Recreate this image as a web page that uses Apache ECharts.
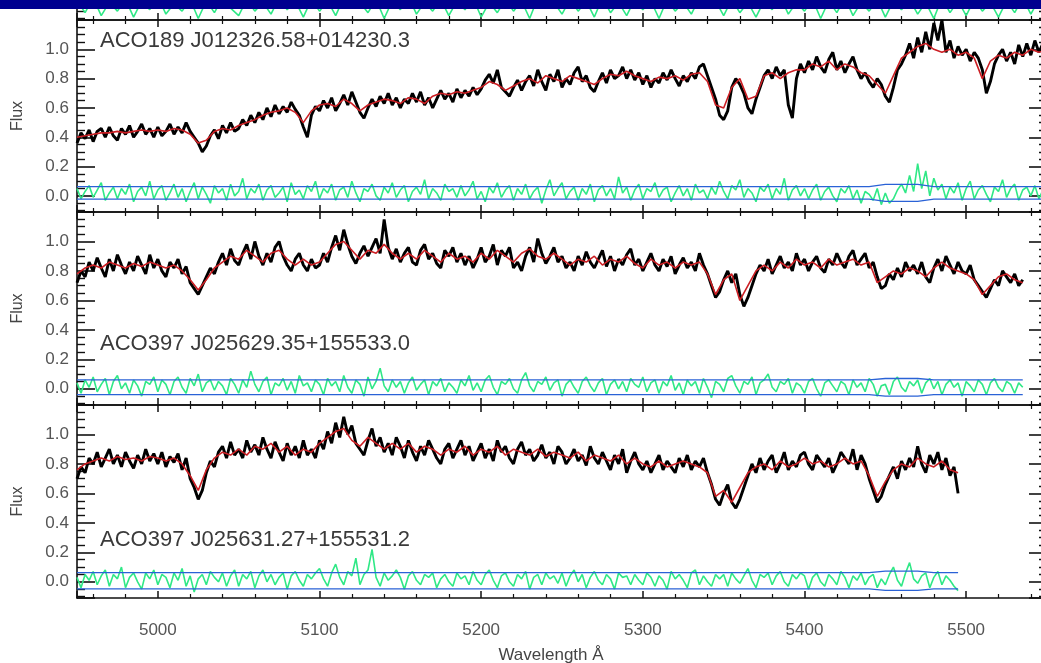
<!DOCTYPE html>
<html><head><meta charset="utf-8">
<script src="https://cdn.jsdelivr.net/npm/echarts@6/dist/echarts.min.js"></script>
<style>html,body{margin:0;padding:0;background:#fff}#c{width:1041px;height:663px}</style>
</head><body><div id="c"></div>
<script>
// ---- sampling (Angstrom) ----
const WL_START = 4950;
const FLUX_STEP = 2.5;    // observed spectrum and residual sampling
const MODEL_STEP = 5;     // fitted model sampling
const X_MIN = 4950, X_MAX = 5550;
const Y_MIN = -0.11, Y_MAX = 1.2;

const labels = ["", "ACO189 J012326.58+014230.3", "ACO397 J025629.35+155533.0", "ACO397 J025631.27+155531.2"];

// ---- panel 0 (cut off at the top of the image): residual only, 5 A sampling ----
const resid0 = [
0.02,-0.06,0.04,-0.08,0.01,-0.05,0.03,-0.09,0.02,-0.04,
0.05,-0.07,0.00,-0.05,0.03,-0.10,0.02,-0.06,0.04,-0.03,
-0.08,0.03,-0.05,0.01,-0.07,0.04,-0.04,0.02,-0.09,0.03,
-0.05,0.02,-0.08,0.04,-0.03,0.01,-0.06,0.03,-0.10,0.02,
-0.04,0.05,-0.07,0.01,-0.05,0.03,-0.08,0.02,-0.04,0.04,
-0.09,0.01,-0.06,0.03,-0.05,0.02,-0.10,0.04,-0.03,0.01,
-0.07,0.03,-0.05,0.02,-0.09,0.04,-0.06,0.01,-0.08,0.03,
-0.04,0.02,-0.10,0.03,-0.05,0.01,-0.07,0.04,-0.03,0.02,
-0.08,0.03,-0.06,0.01,-0.09,0.02,-0.04,0.05,-0.07,0.01,
-0.05,0.03,-0.10,0.02,-0.06,0.04,-0.08,0.01,-0.05,0.03,
-0.09,0.02,-0.04,0.03,-0.07,0.01,-0.10,0.04,-0.06,0.02,
-0.08,0.03,-0.05,0.01,-0.09,0.02,-0.06,0.04,-0.07,0.03,
-0.05];

// ---- panel 1: ACO189 J012326.58+014230.3 (one row = 50 A) ----
const flux1 = [
0.36,0.43,0.39,0.45,0.37,0.44,0.46,0.40,0.47,0.41,0.38,0.46,0.42,0.48,0.40,0.44,0.49,0.42,0.46,0.40,
0.47,0.41,0.44,0.49,0.42,0.47,0.43,0.50,0.44,0.40,0.36,0.30,0.34,0.41,0.45,0.39,0.48,0.43,0.50,0.44,
0.46,0.52,0.48,0.55,0.50,0.57,0.52,0.60,0.54,0.62,0.56,0.61,0.57,0.64,0.59,0.55,0.47,0.40,0.55,0.61,
0.58,0.65,0.60,0.67,0.58,0.63,0.69,0.62,0.71,0.64,0.57,0.53,0.60,0.66,0.61,0.68,0.63,0.70,0.62,0.67,
0.60,0.66,0.63,0.70,0.64,0.71,0.62,0.67,0.60,0.66,0.72,0.66,0.70,0.64,0.73,0.67,0.72,0.68,0.74,0.69,
0.73,0.79,0.83,0.77,0.86,0.74,0.71,0.68,0.74,0.79,0.72,0.78,0.82,0.75,0.86,0.78,0.72,0.83,0.78,0.86,
0.74,0.80,0.76,0.84,0.88,0.78,0.82,0.74,0.71,0.78,0.84,0.77,0.86,0.80,0.82,0.88,0.80,0.86,0.79,0.84,
0.76,0.82,0.74,0.80,0.77,0.84,0.79,0.86,0.80,0.75,0.82,0.78,0.84,0.80,0.88,0.90,0.82,0.74,0.66,0.55,
0.52,0.58,0.74,0.80,0.76,0.70,0.60,0.56,0.66,0.74,0.82,0.86,0.80,0.88,0.82,0.86,0.62,0.53,0.80,0.90,
0.84,0.92,0.86,0.95,0.88,0.84,0.93,0.98,0.86,0.92,0.84,0.90,0.95,0.86,0.80,0.84,0.78,0.74,0.80,0.76,
0.68,0.64,0.74,0.86,0.90,0.96,1.04,0.94,1.08,0.98,1.12,1.00,1.18,1.06,1.20,0.98,1.06,0.94,1.02,0.96,
1.00,0.92,0.98,0.94,0.86,0.70,0.78,0.90,0.96,1.00,0.92,0.98,0.90,1.03,0.95,1.04,0.96,1.06,0.98,1.04,
0.97];
const model1 = [
0.40,0.41,0.42,0.43,0.43,0.44,0.43,0.44,0.45,0.44,
0.45,0.44,0.46,0.45,0.42,0.36,0.38,0.44,0.46,0.45,
0.48,0.50,0.52,0.55,0.57,0.58,0.60,0.57,0.50,0.58,
0.62,0.63,0.61,0.66,0.63,0.58,0.62,0.64,0.66,0.65,
0.63,0.67,0.66,0.63,0.68,0.70,0.69,0.71,0.70,0.72,
0.74,0.78,0.76,0.72,0.75,0.78,0.80,0.77,0.82,0.80,
0.78,0.82,0.80,0.78,0.76,0.80,0.83,0.82,0.85,0.82,
0.80,0.78,0.81,0.80,0.82,0.79,0.83,0.84,0.78,0.62,
0.60,0.74,0.80,0.66,0.68,0.82,0.84,0.80,0.84,0.86,
0.86,0.90,0.88,0.92,0.86,0.90,0.88,0.84,0.82,0.76,
0.70,0.82,0.94,0.98,1.02,1.04,1.00,0.98,1.00,0.96,
0.98,0.94,0.80,0.92,0.96,0.94,0.98,0.96,1.00,0.98,
1.00];
const resid1 = [
0.05,-0.02,0.03,0.07,-0.01,0.04,0.09,-0.03,0.02,0.06,-0.02,0.05,0.01,0.08,-0.04,0.03,0.06,0.00,0.10,-0.02,
0.04,0.07,-0.03,0.02,0.08,-0.01,0.05,-0.04,0.03,0.09,-0.02,0.06,0.01,-0.05,0.07,0.02,0.05,-0.03,0.08,0.00,
0.03,0.12,-0.02,0.05,0.02,0.08,-0.03,0.04,0.07,-0.01,0.02,0.06,-0.04,0.09,0.01,0.04,-0.02,0.07,0.03,0.10,
-0.02,0.05,0.02,0.08,-0.03,0.04,0.06,-0.01,0.10,0.02,-0.04,0.05,0.03,0.08,0.00,-0.03,0.06,0.02,0.09,-0.01,
0.04,0.07,-0.04,0.03,0.06,0.01,0.11,-0.02,0.05,0.02,-0.03,0.08,0.03,0.05,-0.01,0.07,0.00,0.04,0.10,-0.02,
0.03,-0.04,0.06,0.02,0.09,-0.01,0.04,0.07,-0.03,0.05,0.01,0.08,-0.02,0.03,0.06,-0.05,0.04,0.11,0.00,0.05,
0.09,-0.02,0.03,0.06,-0.03,0.05,0.01,0.08,-0.04,0.04,0.07,0.00,0.05,-0.02,0.13,0.02,0.06,-0.03,0.04,0.08,
-0.02,0.05,0.03,0.09,-0.01,0.04,0.06,-0.04,0.02,0.07,0.00,0.05,-0.03,0.08,0.02,0.04,-0.02,0.06,0.01,0.10,
0.03,-0.02,0.07,0.04,0.11,-0.01,0.05,0.02,-0.04,0.06,0.03,0.08,-0.02,0.05,0.01,0.12,-0.03,0.04,0.07,0.00,
0.05,-0.02,0.04,0.08,-0.03,0.03,0.06,0.00,-0.04,0.05,0.02,0.07,-0.02,0.04,-0.05,0.03,0.01,-0.03,0.05,-0.06,
0.02,-0.05,-0.02,0.04,0.08,0.02,0.14,0.03,0.22,0.05,0.17,0.00,0.12,0.04,0.08,-0.02,0.06,0.02,0.09,-0.03,
0.05,0.10,-0.02,0.04,0.07,0.01,-0.04,0.06,0.03,0.11,-0.01,0.05,0.08,-0.03,0.04,0.06,0.00,0.07,-0.02,0.04,
0.03];
const errHi1 = [[4950,0.063],[5440,0.063],[5450,0.078],[5470,0.078],[5480,0.063],[5550,0.063]];
const errLo1 = [[4950,-0.022],[5440,-0.022],[5450,-0.037],[5470,-0.037],[5480,-0.022],[5550,-0.022]];

// ---- panel 2: ACO397 J025629.35+155533.0 ----
const flux2 = [
0.72,0.80,0.76,0.86,0.80,0.89,0.82,0.76,0.88,0.80,0.91,0.84,0.78,0.86,0.80,0.90,0.84,0.78,0.91,0.82,
0.88,0.80,0.76,0.86,0.82,0.88,0.78,0.83,0.72,0.68,0.64,0.70,0.76,0.82,0.78,0.86,0.92,0.84,0.95,0.87,
0.84,0.92,0.98,0.88,1.00,0.90,0.84,0.92,0.86,0.96,1.00,0.90,0.84,0.80,0.88,0.92,0.84,0.80,0.88,0.82,
0.84,0.92,0.86,0.96,1.04,0.94,1.08,0.98,0.90,0.85,0.92,0.97,0.90,0.96,1.02,0.92,1.15,0.96,0.88,0.95,
0.86,0.92,0.96,0.86,0.84,0.94,0.98,0.88,0.92,0.85,0.82,0.94,0.90,0.96,0.86,0.92,0.84,0.90,0.82,0.88,
0.96,0.86,0.90,0.98,0.84,0.94,0.90,0.96,0.82,0.86,0.80,0.90,0.96,0.86,1.02,0.92,0.85,0.90,0.96,0.86,
0.90,0.82,0.86,0.80,0.90,0.84,0.93,0.86,0.82,0.88,0.94,0.83,0.90,0.80,0.88,0.84,0.91,0.95,0.84,0.88,
0.80,0.86,0.92,0.84,0.80,0.88,0.83,0.90,0.78,0.84,0.89,0.82,0.86,0.80,0.92,0.84,0.78,0.70,0.62,0.66,
0.74,0.80,0.72,0.78,0.64,0.56,0.62,0.70,0.78,0.84,0.80,0.88,0.78,0.84,0.90,0.82,0.86,0.80,0.92,0.84,
0.88,0.80,0.86,0.90,0.82,0.79,0.88,0.84,0.92,0.86,0.82,0.90,0.94,0.84,0.88,0.92,0.82,0.86,0.76,0.68,
0.70,0.78,0.74,0.82,0.76,0.86,0.80,0.84,0.78,0.86,0.76,0.72,0.82,0.88,0.80,0.90,0.84,0.78,0.86,0.80,
0.78,0.84,0.74,0.70,0.66,0.62,0.68,0.74,0.70,0.80,0.76,0.72,0.78,0.70,0.74];
const model2 = [
0.78,0.82,0.84,0.82,0.86,0.84,0.82,0.85,0.83,0.86,
0.84,0.82,0.84,0.80,0.74,0.67,0.74,0.82,0.86,0.90,
0.88,0.94,0.90,0.86,0.92,0.94,0.88,0.84,0.88,0.84,
0.86,0.92,0.98,1.00,0.94,0.88,0.94,0.92,0.98,0.92,
0.88,0.92,0.88,0.94,0.90,0.86,0.92,0.88,0.90,0.86,
0.92,0.88,0.94,0.90,0.86,0.92,0.95,0.90,0.88,0.92,
0.88,0.84,0.88,0.86,0.90,0.84,0.88,0.86,0.90,0.85,
0.82,0.88,0.84,0.86,0.82,0.86,0.84,0.86,0.78,0.64,
0.74,0.78,0.60,0.70,0.80,0.84,0.80,0.86,0.82,0.88,
0.84,0.86,0.82,0.88,0.84,0.86,0.88,0.84,0.86,0.72,
0.76,0.80,0.78,0.82,0.80,0.76,0.82,0.86,0.82,0.80,
0.78,0.74,0.64,0.70,0.76,0.78,0.74,0.72];
const resid2 = [
0.04,-0.03,0.06,0.01,0.08,-0.02,0.03,0.07,-0.04,0.05,0.09,0.00,0.04,-0.03,0.06,0.02,-0.05,0.05,0.03,0.08,
-0.02,0.06,0.03,-0.04,0.05,0.08,0.01,-0.03,0.07,0.02,0.10,-0.02,0.04,0.06,-0.01,0.05,0.02,-0.04,0.07,0.03,
-0.03,0.06,0.01,0.12,0.03,-0.02,0.05,0.08,-0.04,0.04,0.02,0.07,-0.01,0.05,-0.03,0.09,0.02,0.04,-0.02,0.06,
0.03,-0.04,0.07,0.02,0.05,-0.02,0.09,0.01,-0.03,0.06,0.03,-0.05,0.08,0.00,0.05,0.14,0.02,-0.02,0.06,0.01,
0.05,-0.03,0.04,0.08,-0.01,0.03,0.06,-0.04,0.05,0.02,0.07,-0.02,0.04,0.01,-0.03,0.06,0.02,0.09,-0.01,0.04,
-0.02,0.06,0.09,0.01,-0.04,0.05,0.03,0.07,0.00,-0.03,0.06,0.11,0.02,-0.02,0.05,0.03,0.08,-0.01,0.04,0.06,
-0.05,0.03,0.06,0.01,-0.03,0.05,0.08,0.02,-0.02,0.04,0.07,-0.04,0.03,0.06,0.00,0.05,-0.02,0.07,0.03,0.01,
0.08,-0.02,0.04,0.06,-0.03,0.05,0.02,0.09,-0.01,0.04,-0.04,0.06,0.02,0.05,-0.03,0.07,0.01,-0.06,0.05,0.03,
-0.02,0.07,0.09,0.02,-0.03,0.05,0.03,0.08,-0.04,0.04,0.06,0.10,0.01,-0.02,0.05,0.03,0.07,-0.03,0.04,0.02,
-0.03,0.05,0.07,0.00,-0.05,0.04,0.06,0.02,-0.02,0.05,0.03,-0.04,0.06,0.01,0.04,-0.02,0.07,0.03,-0.05,0.02,
0.03,-0.04,0.05,0.08,0.01,-0.02,0.05,0.02,0.06,-0.03,0.04,0.07,0.00,0.05,-0.04,0.03,0.06,0.01,0.04,-0.05,
0.05,0.02,-0.02,0.06,0.03,-0.04,0.04,0.07,0.01,-0.02,0.05,0.03,-0.03,0.04,0.01];
const errHi2 = [[4950,0.060],[5440,0.060],[5450,0.070],[5470,0.070],[5480,0.060],[5535,0.060]];
const errLo2 = [[4950,-0.040],[5440,-0.040],[5450,-0.050],[5470,-0.050],[5480,-0.040],[5535,-0.040]];

// ---- panel 3: ACO397 J025631.27+155531.2 ----
const flux3 = [
0.70,0.78,0.74,0.84,0.80,0.88,0.78,0.84,0.90,0.80,0.86,0.78,0.88,0.82,0.77,0.86,0.80,0.90,0.82,0.87,
0.80,0.88,0.78,0.85,0.81,0.87,0.76,0.84,0.70,0.64,0.56,0.62,0.74,0.82,0.78,0.88,0.92,0.84,0.95,0.86,
0.90,0.84,0.96,0.88,0.93,0.86,0.98,0.90,0.84,0.95,0.88,0.82,0.94,0.86,0.92,0.84,0.96,0.86,0.90,0.84,
0.96,0.90,1.02,0.94,1.08,0.98,1.12,1.00,1.06,0.94,0.90,0.86,0.96,1.04,0.92,0.98,0.88,0.94,0.86,0.98,
0.92,0.84,0.96,0.88,0.82,0.92,0.86,0.96,0.90,0.84,0.80,0.90,0.94,0.84,0.90,0.96,0.86,0.92,0.82,0.88,
0.94,0.84,0.90,0.82,0.96,0.88,0.92,0.84,0.80,0.90,0.95,0.86,0.90,0.82,0.86,0.93,0.84,0.88,0.80,0.92,
0.88,0.80,0.84,0.90,0.82,0.86,0.79,0.92,0.84,0.80,0.88,0.82,0.76,0.86,0.80,0.90,0.74,0.82,0.88,0.80,
0.76,0.82,0.74,0.80,0.86,0.76,0.82,0.78,0.74,0.84,0.78,0.86,0.76,0.82,0.78,0.84,0.74,0.66,0.56,0.52,
0.60,0.66,0.54,0.50,0.56,0.64,0.72,0.80,0.74,0.84,0.76,0.82,0.86,0.74,0.80,0.88,0.76,0.82,0.78,0.86,
0.88,0.80,0.76,0.86,0.82,0.78,0.84,0.74,0.80,0.88,0.84,0.80,0.90,0.76,0.86,0.80,0.70,0.62,0.54,0.58,
0.66,0.72,0.78,0.70,0.82,0.76,0.84,0.78,0.92,0.80,0.74,0.86,0.80,0.88,0.76,0.84,0.72,0.78,0.60];
const model3 = [
0.76,0.80,0.82,0.84,0.82,0.85,0.83,0.84,0.82,0.85,
0.84,0.82,0.84,0.80,0.72,0.62,0.76,0.84,0.88,0.86,
0.90,0.86,0.92,0.90,0.94,0.88,0.92,0.86,0.90,0.88,
0.94,0.98,1.02,1.04,0.96,0.92,0.98,0.94,0.90,0.94,
0.90,0.94,0.88,0.92,0.90,0.86,0.90,0.88,0.92,0.86,
0.90,0.88,0.92,0.86,0.90,0.88,0.86,0.90,0.85,0.88,
0.86,0.84,0.88,0.82,0.86,0.84,0.82,0.86,0.80,0.84,
0.80,0.78,0.82,0.78,0.80,0.82,0.80,0.78,0.74,0.58,
0.62,0.54,0.64,0.74,0.78,0.80,0.76,0.82,0.78,0.80,
0.84,0.80,0.82,0.78,0.80,0.84,0.80,0.82,0.72,0.58,
0.68,0.76,0.80,0.78,0.84,0.80,0.78,0.82,0.76,0.74];
const resid3 = [
0.03,-0.04,0.05,0.01,0.07,-0.02,0.04,0.08,-0.03,0.05,0.02,0.10,-0.04,0.03,0.06,0.00,-0.05,0.06,0.02,0.08,
-0.02,0.05,0.03,-0.04,0.06,0.01,0.09,-0.03,0.04,-0.07,0.02,0.05,-0.02,0.07,0.03,0.00,0.06,-0.03,0.04,0.08,
-0.03,0.05,0.02,0.07,-0.04,0.04,0.08,0.00,0.05,-0.02,0.03,0.06,-0.05,0.04,0.07,0.01,-0.03,0.05,0.02,0.06,
0.09,0.02,-0.03,0.06,0.12,0.03,-0.02,0.07,0.04,0.16,-0.02,0.05,0.08,0.22,0.03,-0.03,0.06,0.01,0.04,0.08,
0.03,-0.05,0.04,0.07,0.01,-0.02,0.05,0.03,0.06,-0.04,0.02,0.05,0.00,-0.03,0.06,0.02,0.04,-0.02,0.07,0.01,
-0.02,0.05,0.08,0.01,-0.04,0.04,0.06,0.00,-0.03,0.05,0.02,0.07,-0.05,0.03,0.05,-0.02,0.06,0.02,0.04,-0.01,
0.06,-0.03,0.04,0.08,0.00,0.05,-0.04,0.03,0.07,0.01,-0.02,0.05,0.02,-0.05,0.06,0.03,0.04,-0.02,0.05,0.01,
-0.02,0.06,0.03,-0.03,0.04,0.01,-0.05,0.07,0.02,0.05,0.01,-0.04,0.06,0.08,-0.02,0.04,0.00,-0.03,0.05,0.02,
0.05,-0.03,0.06,0.02,-0.01,0.04,0.09,0.01,-0.04,0.05,0.03,0.06,-0.02,0.04,0.07,0.00,-0.03,0.05,0.02,0.06,
0.04,-0.05,0.03,0.06,0.00,-0.03,0.05,0.02,-0.02,0.07,0.03,-0.04,0.04,0.01,0.06,-0.02,0.03,0.05,-0.04,0.02,
-0.02,0.05,0.10,0.01,-0.03,0.06,0.13,0.02,-0.01,0.04,0.06,-0.04,0.03,0.07,-0.02,0.04,0.01,-0.03,-0.06];
const errHi3 = [[4950,0.062],[5440,0.062],[5450,0.072],[5470,0.072],[5480,0.062],[5495,0.062]];
const errLo3 = [[4950,-0.048],[5440,-0.048],[5450,-0.058],[5470,-0.058],[5480,-0.048],[5495,-0.048]];

// ---------------------------------------------------------------
const pair = (arr, step) => arr.map((v, i) => [WL_START + i * step, v]);
const panels = [
  {flux: null, model: null, resid: resid0, residStep: MODEL_STEP, hi: null, lo: null},
  {flux: flux1, model: model1, resid: resid1, residStep: FLUX_STEP, hi: errHi1, lo: errLo1},
  {flux: flux2, model: model2, resid: resid2, residStep: FLUX_STEP, hi: errHi2, lo: errLo2},
  {flux: flux3, model: model3, resid: resid3, residStep: FLUX_STEP, hi: errHi3, lo: errLo3}
];
const gridTops = [-173, 20, 212, 405];
const gridHeights = [193, 192, 193, 193];
const FONT = '"Liberation Sans", Arial, Helvetica, sans-serif';
const AX = '#111';

const grid = [], xAxis = [], yAxis = [], series = [];
panels.forEach((p, i) => {
  grid.push({left: 77, width: 970, top: gridTops[i], height: gridHeights[i], containLabel: false, outerBoundsMode: 'none'});
  ['bottom', 'top'].forEach(pos => {
    xAxis.push({
      type: 'value', gridIndex: i, position: pos, min: X_MIN, max: X_MAX, splitNumber: 6,
      axisLine: {show: true, onZero: false, lineStyle: {color: AX, width: 1.6}},
      axisTick: {show: true, inside: true, length: 7, lineStyle: {color: AX, width: 1.5}},
      minorTick: {show: true, splitNumber: 5, length: 4, lineStyle: {color: AX, width: 1.2}},
      splitLine: {show: false},
      axisLabel: {show: (i === 3 && pos === 'bottom'), margin: 24, color: '#555', fontSize: 17, fontFamily: FONT,
        formatter: v => (Math.abs(v % 100) < 1e-6 ? String(v) : '')}
    });
  });
  ['left', 'right'].forEach(pos => {
    yAxis.push({
      type: 'value', gridIndex: i, position: pos, min: Y_MIN, max: Y_MAX, splitNumber: 6,
      name: (pos === 'left' && i > 0) ? 'Flux' : '', nameLocation: 'middle', nameGap: 51,
      nameTextStyle: {color: '#444', fontSize: 16, fontFamily: FONT},
      axisLine: {show: true, onZero: false, lineStyle: {color: AX, width: 1.6}},
      axisTick: {show: true, inside: true, length: 18, lineStyle: {color: AX, width: 1.6}},
      minorTick: {show: true, splitNumber: 4, length: 8, lineStyle: {color: AX, width: 1.4}},
      splitLine: {show: false},
      axisLabel: {show: (pos === 'left' && i > 0), margin: 8, color: '#555', fontSize: 17, fontFamily: FONT,
        formatter: v => (v < -0.001 || v > 1.1) ? '' : v.toFixed(1)}
    });
  });
  const base = {type: 'line', xAxisIndex: 2 * i, yAxisIndex: 2 * i, showSymbol: false, symbol: 'none', animation: false, silent: true};
  series.push(Object.assign({}, base, {data: pair(p.resid, p.residStep), lineStyle: {color: '#2fe886', width: 1.6}, z: 2}));
  if (p.hi) {
    series.push(Object.assign({}, base, {data: p.hi, lineStyle: {color: '#2a62d6', width: 1.3}, z: 3}));
    series.push(Object.assign({}, base, {data: p.lo, lineStyle: {color: '#2a62d6', width: 1.3}, z: 3}));
  }
  if (p.flux) {
    series.push(Object.assign({}, base, {data: pair(p.flux, FLUX_STEP), lineStyle: {color: '#000', width: 2.9}, z: 4}));
    series.push(Object.assign({}, base, {data: pair(p.model, MODEL_STEP), lineStyle: {color: '#cc1f24', width: 1.6}, z: 5}));
  }
});

const graphic = [
  {type: 'rect', shape: {x: 0, y: 0, width: 1041, height: 9}, style: {fill: '#00008f'}, z: 100},
  {type: 'text', x: 100, y: 41, z: 50, style: {text: labels[1], font: '22px ' + FONT, fill: '#3a3a3a', align: 'left', verticalAlign: 'middle'}},
  {type: 'text', x: 100, y: 344, z: 50, style: {text: labels[2], font: '22px ' + FONT, fill: '#3a3a3a', align: 'left', verticalAlign: 'middle'}},
  {type: 'text', x: 100, y: 540, z: 50, style: {text: labels[3], font: '22px ' + FONT, fill: '#3a3a3a', align: 'left', verticalAlign: 'middle'}},
  {type: 'text', x: 551, y: 655, z: 50, style: {text: 'Wavelength Å', font: '17px ' + FONT, fill: '#444', align: 'center', verticalAlign: 'middle'}}
];

const chart = echarts.init(document.getElementById('c'), null, {renderer: 'canvas'});
chart.setOption({backgroundColor: '#fff', animation: false, grid, xAxis, yAxis, series, graphic});
</script></body></html>
